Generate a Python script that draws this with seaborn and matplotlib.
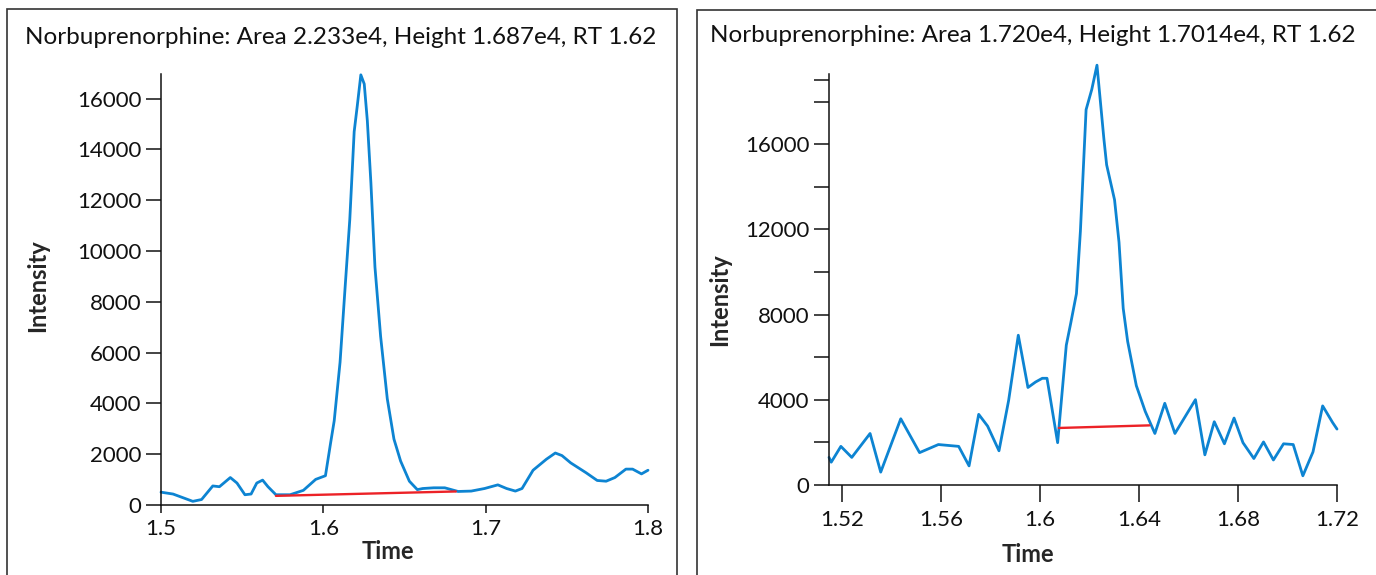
import matplotlib
matplotlib.use("Agg")
import matplotlib.pyplot as plt
import numpy as np
import pandas as pd
import seaborn as sns
from matplotlib.patches import Rectangle
from matplotlib.ticker import FixedLocator, NullFormatter

# ---------------- data ----------------
left_title = "Norbuprenorphine: Area 2.233e4, Height 1.687e4, RT 1.62"
right_title = "Norbuprenorphine: Area 1.720e4, Height 1.7014e4, RT 1.62"

left_time = [1.5, 1.5074, 1.5196, 1.525, 1.5319, 1.536, 1.5427, 1.5468, 1.5517,
             1.5555, 1.559, 1.5626, 1.5659, 1.5708, 1.5795, 1.5877, 1.5953, 1.6013,
             1.6045, 1.6067, 1.6103, 1.6135, 1.6163, 1.619, 1.6209, 1.6231, 1.6252,
             1.6271, 1.6293, 1.6318, 1.6353, 1.6394, 1.6435, 1.6476, 1.653, 1.6579,
             1.6612, 1.668, 1.6748, 1.683, 1.6911, 1.6993, 1.7075, 1.7129, 1.7183,
             1.7224, 1.7292, 1.7374, 1.7429, 1.747, 1.7524, 1.7619, 1.7687, 1.7742,
             1.7796, 1.7864, 1.7905, 1.796, 1.8]
left_intensity = [505, 432, 144, 216, 750, 720, 1081, 865, 404,
                  432, 865, 980, 720, 404, 404, 577, 1009, 1153,
                  2450, 3315, 5620, 8650, 11243, 14700, 15711, 16937, 16577,
                  15135, 12685, 9369, 6631, 4180, 2595, 1730, 937, 605,
                  649, 677, 677, 533, 548, 649, 793, 649, 548,
                  649, 1369, 1802, 2047, 1946, 1658, 1268, 966, 937,
                  1081, 1413, 1413, 1225, 1369]
left_base_time = [1.5708, 1.6816]
left_base_intensity = [360, 533]

right_time = [1.5147, 1.5156, 1.5195, 1.5239, 1.5313, 1.5356, 1.5437, 1.5513, 1.5589,
              1.5671, 1.5713, 1.5752, 1.5788, 1.5834, 1.5873, 1.5912, 1.5951, 1.5982,
              1.6009, 1.6028, 1.6071, 1.6106, 1.6124, 1.6147, 1.6163, 1.6186, 1.6209,
              1.623, 1.6258, 1.6269, 1.6301, 1.6319, 1.6336, 1.6354, 1.6389, 1.6425,
              1.6464, 1.6504, 1.6545, 1.6628, 1.6666, 1.6704, 1.6745, 1.6784, 1.682,
              1.6864, 1.6903, 1.6943, 1.6984, 1.7023, 1.7062, 1.7103, 1.7142, 1.7182, 1.72]
right_intensity = [1296, 1071, 1814, 1296, 2419, 605, 3110, 1520, 1900,
                   1814, 898, 3318, 2765, 1607, 3974, 7033, 4579, 4838,
                   5011, 5011, 1987, 6566, 7603, 8986, 11923, 17626, 18576,
                   19714, 16243, 15034, 13392, 11405, 8294, 6739, 4666, 3456,
                   2419, 3836, 2419, 4009, 1417, 2972, 1935, 3145, 1987,
                   1244, 2022, 1175, 1935, 1900, 432, 1555, 3715, 2938, 2626]
right_base_time = [1.6076, 1.6442]
right_base_intensity = [2678, 2800]

left_xticks = [1.5, 1.6, 1.7, 1.8]
left_xticklabels = ["1.5", "1.6", "1.7", "1.8"]
left_yticks = [0, 2000, 4000, 6000, 8000, 10000, 12000, 14000, 16000]
left_yticklabels = ["0", "2000", "4000", "6000", "8000", "10000", "12000", "14000", "16000"]

right_xticks = [1.52, 1.56, 1.6, 1.64, 1.68, 1.72]
right_xticklabels = ["1.52", "1.56", "1.6", "1.64", "1.68", "1.72"]
right_yticks = [0, 4000, 8000, 12000, 16000]
right_yticklabels = ["0", "4000", "8000", "12000", "16000"]
right_yminor = [2000, 6000, 10000, 14000, 18000, 19000]

x_label = "Time"
y_label = "Intensity"

# ---------------- style ----------------
sns.set_style("ticks")
plt.rcParams['font.family'] = ['Lato', 'DejaVu Sans']
BLUE = "#0d84d2"
RED = "#ec2227"
INK = "#111111"

W, H = 1376, 575
fig = plt.figure(figsize=(W / 100, H / 100), dpi=100)
fig.patch.set_facecolor("white")

# panel frames
fig.patches.append(Rectangle((7 / W, -0.2), (677 - 7) / W, 1.2 - 9 / H,
                             transform=fig.transFigure, fill=False,
                             edgecolor="#333333", linewidth=1.2))
fig.patches.append(Rectangle((697 / W, -0.2), 0.5, 1.2 - 10 / H,
                             transform=fig.transFigure, fill=False,
                             edgecolor="#333333", linewidth=1.2))

axL = fig.add_axes([161 / W, 1 - 505 / H, 487 / W, (505 - 74) / H])
axR = fig.add_axes([829 / W, 1 - 485 / H, 508 / W, (485 - 74) / H])

dfL = pd.DataFrame({"t": left_time, "i": left_intensity})
dfLb = pd.DataFrame({"t": left_base_time, "i": left_base_intensity})
dfR = pd.DataFrame({"t": right_time, "i": right_intensity})
dfRb = pd.DataFrame({"t": right_base_time, "i": right_base_intensity})

sns.lineplot(data=dfL, x="t", y="i", ax=axL, color=BLUE, linewidth=2.0,
             sort=False, estimator=None, clip_on=False)
sns.lineplot(data=dfLb, x="t", y="i", ax=axL, color=RED, linewidth=1.7,
             sort=False, estimator=None)
sns.lineplot(data=dfR, x="t", y="i", ax=axR, color=BLUE, linewidth=2.0,
             sort=False, estimator=None, clip_on=False)
sns.lineplot(data=dfRb, x="t", y="i", ax=axR, color=RED, linewidth=1.7,
             sort=False, estimator=None)

axL.set_xlim(1.5, 1.8)
axL.set_ylim(0, 16970)
axR.set_xlim(1.5147, 1.72)
axR.set_ylim(0, 19300)

axL.set_xticks(left_xticks)
axL.set_xticklabels(left_xticklabels)
axL.set_yticks(left_yticks)
axL.set_yticklabels(left_yticklabels)

axR.set_xticks(right_xticks)
axR.set_xticklabels(right_xticklabels)
axR.set_yticks(right_yticks)
axR.set_yticklabels(right_yticklabels)
axR.yaxis.set_minor_locator(FixedLocator(right_yminor))
axR.yaxis.set_minor_formatter(NullFormatter())

for ax in (axL, axR):
    for s in ("top", "right"):
        ax.spines[s].set_visible(False)
    for s in ("left", "bottom"):
        ax.spines[s].set_color(INK)
        ax.spines[s].set_linewidth(1.1)
    ax.set_facecolor("none")
    ax.tick_params(axis="both", which="both", colors=INK, labelcolor=INK,
                   width=1.1, labelsize=16, direction="out")
    ax.tick_params(axis="y", which="both", length=11, pad=3)

axL.tick_params(axis="x", length=6, pad=4)
axR.tick_params(axis="x", length=12, pad=6)

axL.set_xlabel(x_label, fontsize=17, fontweight="bold", va="center", ha="center")
axL.set_ylabel(y_label, fontsize=17, fontweight="bold", va="center", ha="center")
axL.xaxis.set_label_coords(0.466, -0.109)
axL.yaxis.set_label_coords(-0.2526, 0.51)

axR.set_xlabel(x_label, fontsize=17, fontweight="bold", va="center", ha="center")
axR.set_ylabel(y_label, fontsize=17, fontweight="bold", va="center", ha="center")
axR.xaxis.set_label_coords(0.392, -0.170)
axR.yaxis.set_label_coords(-0.2146, 0.45)

fig.text(341 / W, 1 - 38 / H, left_title, fontsize=17.5, ha="center", va="center", color=INK)
fig.text(1033 / W, 1 - 35 / H, right_title, fontsize=17.5, ha="center", va="center", color=INK)

fig.savefig("out.png", dpi=100)
